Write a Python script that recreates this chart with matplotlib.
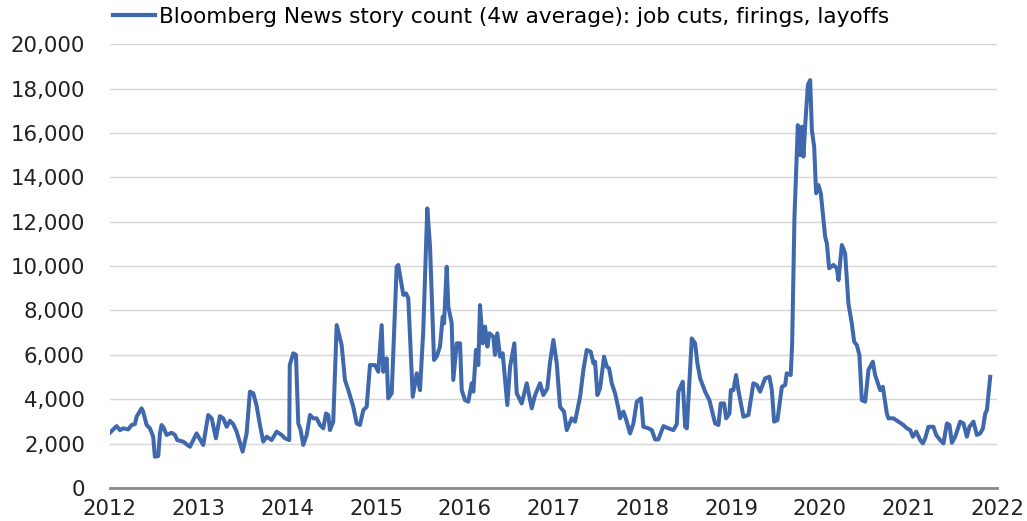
import matplotlib
matplotlib.use("Agg")
import matplotlib.pyplot as plt
from matplotlib.ticker import FuncFormatter

# weekly story count (4w avg), x in decimal years
years = [
    2012.000, 2012.076, 2012.113, 2012.150, 2012.206, 2012.245, 2012.282, 2012.301, 2012.357, 2012.375,
    2012.414, 2012.451, 2012.488, 2012.507, 2012.545, 2012.564, 2012.583, 2012.609, 2012.639, 2012.696,
    2012.733, 2012.759, 2012.826, 2012.902, 2012.977, 2013.052, 2013.108, 2013.147, 2013.195, 2013.240,
    2013.277, 2013.316, 2013.353, 2013.390, 2013.428, 2013.496, 2013.541, 2013.578, 2013.616, 2013.654,
    2013.691, 2013.728, 2013.767, 2013.823, 2013.879, 2013.936, 2013.973, 2014.021, 2014.027, 2014.067,
    2014.097, 2014.123, 2014.150, 2014.179, 2014.218, 2014.255, 2014.292, 2014.330, 2014.368, 2014.405,
    2014.435, 2014.461, 2014.480, 2014.517, 2014.556, 2014.612, 2014.649, 2014.687, 2014.743, 2014.781,
    2014.818, 2014.856, 2014.894, 2014.931, 2014.988, 2015.025, 2015.063, 2015.081, 2015.119, 2015.137,
    2015.176, 2015.232, 2015.250, 2015.307, 2015.337, 2015.363, 2015.413, 2015.458, 2015.495, 2015.532,
    2015.577, 2015.608, 2015.653, 2015.683, 2015.720, 2015.751, 2015.766, 2015.796, 2015.814, 2015.852,
    2015.870, 2015.909, 2015.946, 2015.965, 2016.002, 2016.039, 2016.078, 2016.096, 2016.126, 2016.152,
    2016.171, 2016.202, 2016.228, 2016.254, 2016.276, 2016.321, 2016.340, 2016.366, 2016.397, 2016.427,
    2016.479, 2016.510, 2016.558, 2016.585, 2016.641, 2016.698, 2016.754, 2016.792, 2016.848, 2016.885,
    2016.930, 2016.961, 2016.998, 2017.036, 2017.073, 2017.118, 2017.149, 2017.205, 2017.242, 2017.299,
    2017.336, 2017.374, 2017.419, 2017.449, 2017.468, 2017.494, 2017.524, 2017.569, 2017.600, 2017.626,
    2017.656, 2017.693, 2017.731, 2017.750, 2017.787, 2017.814, 2017.862, 2017.900, 2017.938, 2017.986,
    2018.012, 2018.069, 2018.107, 2018.144, 2018.181, 2018.238, 2018.294, 2018.351, 2018.389, 2018.407,
    2018.456, 2018.483, 2018.502, 2018.558, 2018.595, 2018.621, 2018.652, 2018.708, 2018.756, 2018.821,
    2018.858, 2018.884, 2018.922, 2018.945, 2018.982, 2018.998, 2019.027, 2019.057, 2019.083, 2019.140,
    2019.196, 2019.252, 2019.291, 2019.328, 2019.384, 2019.433, 2019.460, 2019.486, 2019.523, 2019.573,
    2019.610, 2019.628, 2019.673, 2019.689, 2019.715, 2019.753, 2019.779, 2019.798, 2019.816, 2019.835,
    2019.866, 2019.892, 2019.911, 2019.937, 2019.959, 2019.985, 2020.012, 2020.061, 2020.080, 2020.106,
    2020.155, 2020.193, 2020.211, 2020.249, 2020.286, 2020.323, 2020.361, 2020.388, 2020.418, 2020.447,
    2020.474, 2020.512, 2020.549, 2020.598, 2020.624, 2020.662, 2020.681, 2020.711, 2020.756, 2020.774,
    2020.831, 2020.887, 2020.943, 2020.982, 2021.019, 2021.049, 2021.087, 2021.132, 2021.162, 2021.188,
    2021.225, 2021.281, 2021.312, 2021.357, 2021.394, 2021.433, 2021.462, 2021.489, 2021.526, 2021.583,
    2021.620, 2021.658, 2021.687, 2021.732, 2021.771, 2021.808, 2021.839, 2021.865, 2021.884, 2021.921,
]
story_count = [
    2490, 2790, 2610, 2690, 2640, 2840, 2880, 3210, 3590, 3440,
    2840, 2690, 2310, 1410, 1440, 2460, 2840, 2690, 2390, 2490,
    2390, 2160, 2090, 1860, 2460, 1940, 3290, 3140, 2240, 3240,
    3140, 2760, 3030, 2880, 2540, 1640, 2460, 4340, 4270, 3700,
    2840, 2090, 2310, 2160, 2540, 2390, 2240, 2160, 5540, 6070,
    6000, 2910, 2610, 1940, 2390, 3290, 3140, 3140, 2840, 2690,
    3360, 3290, 2610, 2990, 7340, 6440, 4870, 4410, 3660, 2910,
    2840, 3510, 3660, 5540, 5540, 5240, 7340, 5240, 5840, 4040,
    4270, 9970, 10050, 8700, 8770, 8550, 4110, 5170, 4410, 7120,
    12600, 10870, 5770, 5920, 6370, 7720, 7420, 9970, 8170, 7420,
    4870, 6520, 6520, 4410, 3960, 3890, 4720, 4340, 6220, 5540,
    8240, 6520, 7270, 6370, 6970, 6820, 6000, 6970, 5920, 6070,
    3740, 5470, 6520, 4270, 3810, 4720, 3590, 4190, 4720, 4190,
    4490, 5690, 6670, 5620, 3660, 3440, 2610, 3140, 2990, 4110,
    5320, 6220, 6140, 5620, 5690, 4190, 4490, 5920, 5470, 5390,
    4720, 4270, 3590, 3140, 3440, 3140, 2460, 2910, 3890, 4040,
    2760, 2690, 2610, 2190, 2190, 2790, 2690, 2610, 2880, 4340,
    4790, 2760, 2690, 6740, 6520, 5620, 4940, 4340, 3960, 2910,
    2840, 3810, 3810, 3140, 3360, 4410, 4410, 5090, 4410, 3210,
    3290, 4720, 4640, 4340, 4940, 5010, 4410, 2990, 3060, 4560,
    4640, 5170, 5090, 6520, 12220, 16350, 15000, 16280, 14930, 16280,
    18160, 18380, 16130, 15380, 13280, 13650, 13280, 11320, 11020, 9900,
    10050, 9900, 9370, 10950, 10570, 8320, 7420, 6590, 6440, 5990,
    3960, 3890, 5320, 5690, 5090, 4640, 4410, 4560, 3360, 3140,
    3140, 2990, 2840, 2690, 2610, 2310, 2540, 2160, 2010, 2240,
    2760, 2760, 2390, 2160, 2010, 2910, 2840, 2040, 2310, 2990,
    2910, 2310, 2760, 2990, 2390, 2460, 2690, 3360, 3510, 5010,
]
year_ticks = list(range(2012, 2023))
y_ticks = list(range(0, 20001, 2000))
legend_label = "Bloomberg News story count (4w average): job cuts, firings, layoffs"

plt.rcParams['font.family'] = ['DejaVu Sans']

fig = plt.figure(figsize=(10.27, 5.21), dpi=100)
ax = fig.add_axes([0.107, 0.0633, 0.864, 0.852])

ax.plot(years, story_count, color="#4068AD", lw=2.9, solid_joinstyle="round",
        label=legend_label)

ax.set_xlim(2012, 2022)
ax.set_ylim(0, 20000)
ax.set_xticks(year_ticks)
ax.set_yticks(y_ticks)
ax.yaxis.set_major_formatter(FuncFormatter(lambda v, p: f"{int(v):,}"))
ax.tick_params(length=0, labelsize=15.3, colors="#222222")
ax.tick_params(axis="y", pad=18)
ax.tick_params(axis="x", pad=8)

ax.grid(axis="y", color="#d6d6d6", lw=1)
ax.set_axisbelow(True)
for s in ["top", "right", "left"]:
    ax.spines[s].set_visible(False)
ax.spines["bottom"].set_color("#888888")
ax.spines["bottom"].set_linewidth(2)

leg = ax.legend(loc="center left", bbox_to_anchor=(0.003, 1.061), frameon=False,
                fontsize=15.6, handlelength=1.95, handletextpad=0.2, borderaxespad=0,
                borderpad=0)
leg.get_lines()[0].set_linewidth(3)

fig.savefig("out.png", dpi=100)
